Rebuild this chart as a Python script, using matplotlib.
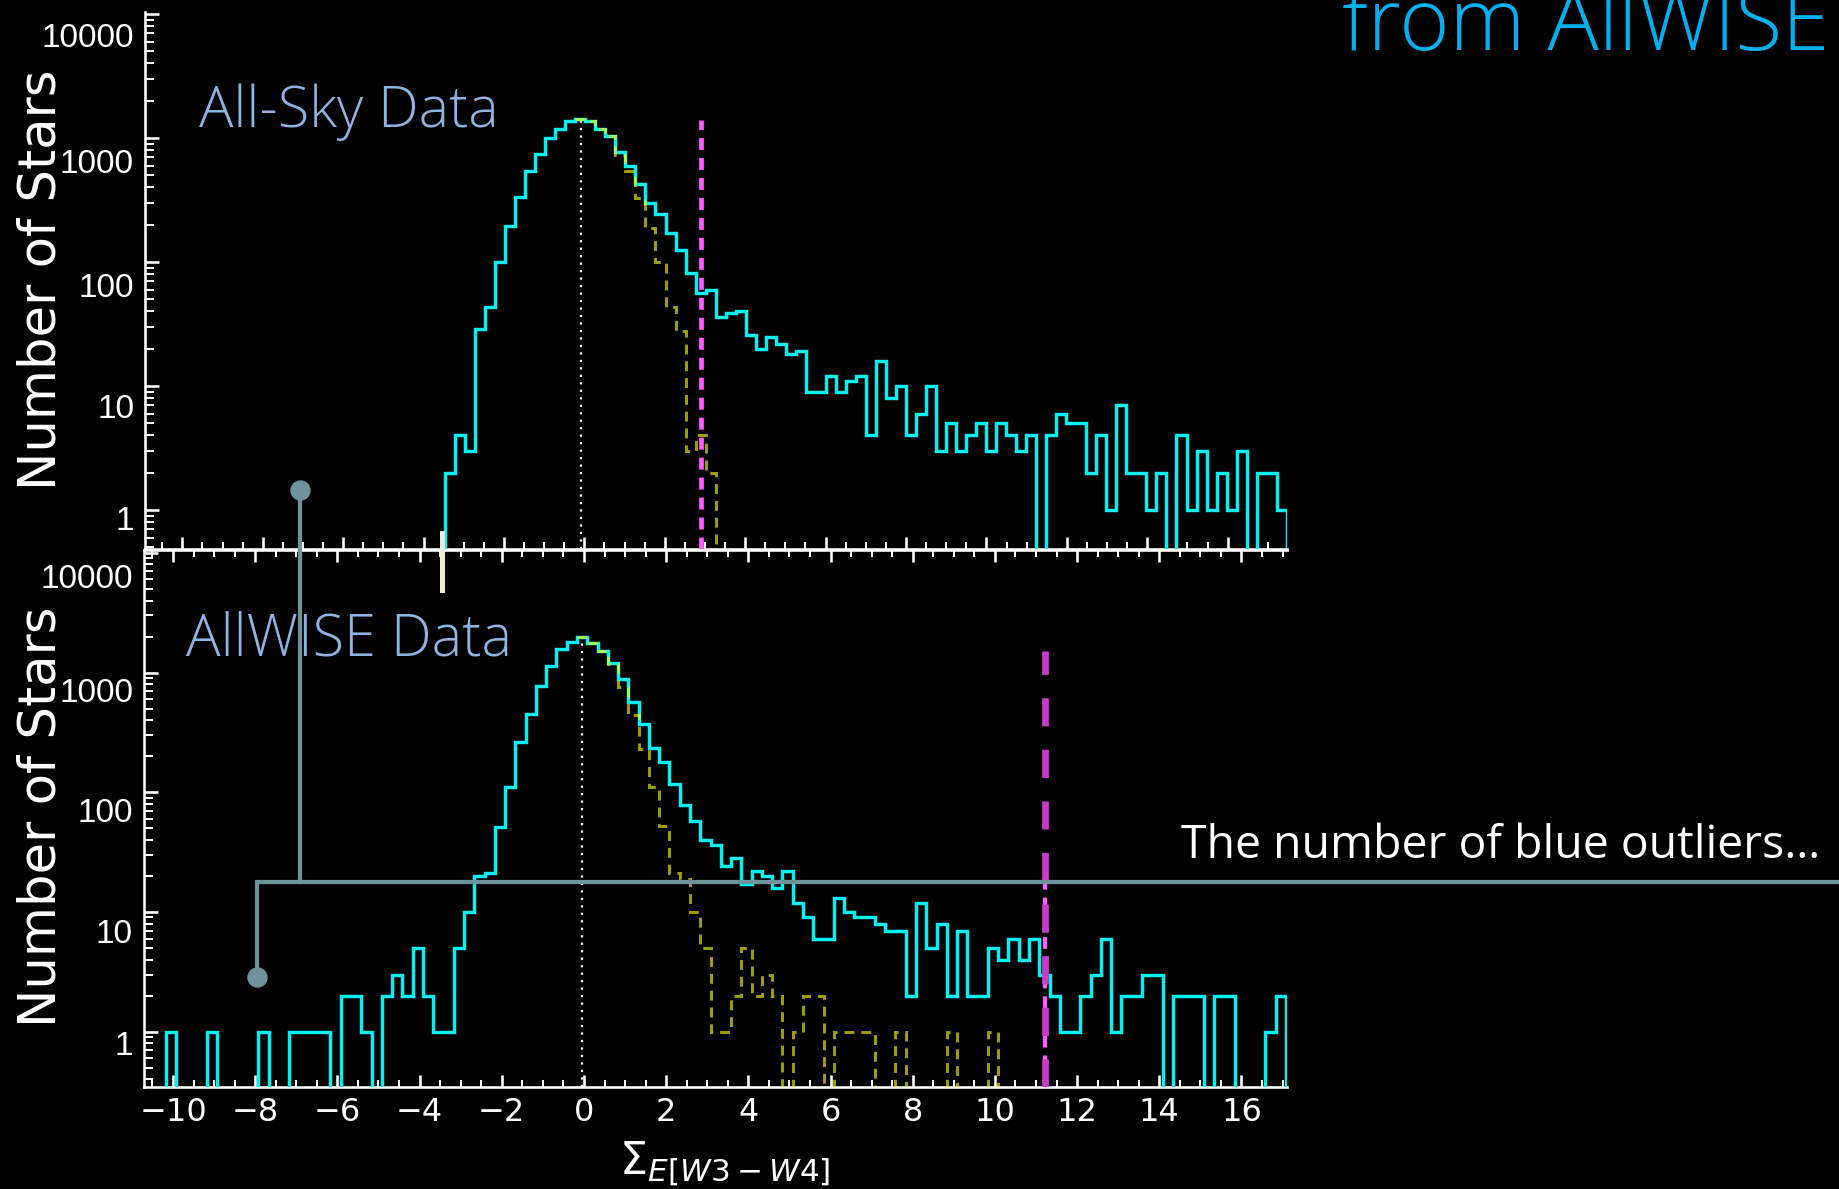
import numpy as np
import matplotlib
matplotlib.use("Agg")
import matplotlib.pyplot as plt
from matplotlib.lines import Line2D
from matplotlib.ticker import FixedLocator, LogLocator, NullFormatter, MultipleLocator
from matplotlib import font_manager
import matplotlib.transforms as mtransforms

W, H, DPI = 1839, 1189, 100

# ---------------- data ----------------
# All-Sky histogram (bin width ~0.25)
allsky_range = (-3.465, 17.47)
allsky_counts = [2, 4, 3, 29, 43, 100, 195, 336, 545, 740, 995, 1183, 1380, 1423,
                 1380, 1175, 1044, 767, 594, 426, 301, 246, 170, 125, 81, 56,
                 59, 36, 39, 40, 26, 20, 25, 22, 18, 19, 9, 9, 12, 9, 11, 12,
                 4, 16, 8, 10, 4, 6, 10, 3, 5, 3, 4, 5, 3, 5, 4, 3, 4, 0,
                 4, 6, 5, 5, 2, 4, 1, 7, 2, 2, 1, 2, 0, 4, 1, 3, 1, 2, 1, 3,
                 0, 2, 2, 1]
allsky_model_start = 13
allsky_model = [1423, 1380, 1175, 1030, 730, 545, 330, 187, 100, 43, 28, 3, 4, 2, 0]

# AllWISE histogram
allwise_range = (-10.17, 17.08)
allwise_counts = [1, 0, 0, 0, 1, 0, 0, 0, 0, 1, 0, 0, 1, 1, 1, 1, 0, 2, 2, 1,
                  0, 2, 3, 2, 5, 2, 1, 1, 5, 10, 20, 21, 51, 111, 265, 451, 777, 1135, 1567, 1812,
                  1972, 1778, 1514, 1210, 879, 571, 372, 233, 180, 117, 78, 58, 40, 36, 24, 28,
                  17, 22, 20, 16, 22, 12, 9, 6, 6, 13, 10, 9, 9, 8, 7, 7, 2, 12, 5, 8,
                  2, 7, 2, 2, 5, 4, 6, 4, 6, 3, 2, 1, 1, 2, 3, 6, 1, 2, 2, 3,
                  3, 0, 2, 2, 2, 0, 2, 2, 0, 0, 0, 1, 2]
allwise_model_start = 40
allwise_model = [1972, 1778, 1514, 1190, 762, 443, 230, 111, 52, 21, 19, 10, 5, 1, 1, 2,
                 5, 2, 3, 2, 0, 1, 2, 2, 0, 1, 1, 1, 1, 0, 0, 1, 0, 0, 0, 0,
                 1, 0, 0, 0, 1, 0]

median_allsky, median_allwise = -0.09, -0.04
cut_allsky, cut_allwise = 2.90, 11.23
cut_allwise_low = 18

ytick_vals = [1, 10, 100, 1000, 10000]
ytick_labels = ["1", "10", "100", "1000", "10000"]
title_text = "from AllWISE"
panel_titles = ["All-Sky Data", "AllWISE Data"]
ylabel_text = "Number of Stars"
xlabel_text = r"$\Sigma_{E[W3-W4]}$"
note_text = "The number of blue outliers…"

# ---------------- styling ----------------
CYAN = "#00F2F2"
YEL = (1.0, 1.0, 0.0, 0.62)
VIOLET = "#FF5CFF"
DMAG = "#C93CC9"
GREY = "#6F939C"
PANEL_BLUE = "#8EB4E3"
TITLE_BLUE = "#00B0F0"


def pick_light_family():
    for fam in ["Lato", "Open Sans", "Roboto", "Noto Sans"]:
        try:
            path = font_manager.findfont(font_manager.FontProperties(family=fam, weight="light"),
                                         fallback_to_default=False)
        except Exception:
            continue
        if "light" in path.lower():
            return fam
    return "Open Sans"


LIGHT_FAM = pick_light_family()


def px(v):  # pixels -> points
    return v * 72.0 / DPI


def frac(x0, y0, x1, y1):
    return [x0 / W, 1 - y1 / H, (x1 - x0) / W, (y1 - y0) / H]


fig = plt.figure(figsize=(W / DPI, H / DPI), dpi=DPI, facecolor="black")

ax_top = fig.add_axes(frac(145, 12.4, 1286.7, 548.5))
ax_bot = fig.add_axes(frac(144, 550, 1286.7, 1086.7))


def style_axis(ax, xlim, ylim, xlabels, toptick, label_shifts):
    ax.set_facecolor("black")
    ax.set_yscale("log")
    ax.set_xlim(*xlim)
    ax.set_ylim(*ylim)
    for s in ["left", "bottom", "top", "right"]:
        ax.spines[s].set_color("white")
        ax.spines[s].set_linewidth(px(2.6))
    ax.spines["right"].set_visible(False)
    ax.spines["top"].set_visible(toptick)
    ax.xaxis.set_major_locator(MultipleLocator(2))
    ax.xaxis.set_minor_locator(MultipleLocator(0.5))
    ax.yaxis.set_major_locator(FixedLocator(ytick_vals))
    ax.yaxis.set_major_formatter(plt.FixedFormatter(ytick_labels))
    ax.yaxis.set_minor_locator(LogLocator(base=10, subs=np.arange(2, 10)))
    ax.yaxis.set_minor_formatter(NullFormatter())
    ax.tick_params(axis="x", which="major", direction="in", length=px(12), width=px(2.6),
                   color="white", top=toptick, bottom=True, labelbottom=xlabels,
                   labelcolor="white", labelsize=23, pad=px(10))
    ax.tick_params(axis="x", which="minor", direction="in", length=px(7), width=px(2),
                   color="white", top=toptick, bottom=True)
    ax.tick_params(axis="y", which="major", direction="in", length=px(14), width=px(2.6),
                   color="white", labelcolor="white", labelsize=24, pad=px(11))
    ax.tick_params(axis="y", which="minor", direction="in", length=px(9), width=px(2),
                   color="white")
    for lab, dy in zip(ax.get_yticklabels(), label_shifts):
        lab.set_fontfamily("Liberation Sans")
        lab.set_transform(lab.get_transform() +
                          mtransforms.ScaledTranslation(0, -dy / DPI, fig.dpi_scale_trans))
    for lab in ax.get_xticklabels():
        lab.set_fontfamily("DejaVu Sans")


style_axis(ax_top, (-10.93, 17.47), (0.49, 1.03e4), False, False, [8, 19.6, 23, 23, 20.7])
style_axis(ax_bot, (-10.706, 17.10), (0.347, 1.057e4), True, True, [11.3, 19.5, 18, 17, 23])


def draw_panel(ax, rng, counts, mstart, model, med, ylo):
    edges = np.linspace(rng[0], rng[1], len(counts) + 1)
    ax.stairs(counts, edges, color=CYAN, lw=px(3.4), zorder=4)
    medges = edges[mstart:mstart + len(model) + 1]
    ax.stairs(model, medges, baseline=None, color=YEL, lw=px(3.0),
              linestyle=(0, (3.3, 2.3)), zorder=5)
    ax.vlines(med, ylo, max(counts), colors="white", lw=px(2.2),
              linestyles=[(0, (1, 2.4))], zorder=3)


draw_panel(ax_top, allsky_range, allsky_counts, allsky_model_start, allsky_model,
           median_allsky, 0.49)
draw_panel(ax_bot, allwise_range, allwise_counts, allwise_model_start, allwise_model,
           median_allwise, 0.347)

# cut lines
ax_top.vlines(cut_allsky, 0.49, 1400, colors=VIOLET, lw=px(4.7),
              linestyles=[(0, (2.55, 1.7))], zorder=6)
ax_bot.vlines(cut_allwise, 0.347, cut_allwise_low, colors=VIOLET, lw=px(4.2),
              linestyles=[(0, (2.8, 1.9))], zorder=6)
ax_bot.vlines(cut_allwise, 0.347, 1514, colors=DMAG, lw=px(6.7),
              linestyles=[(0, (4.2, 3.5))], zorder=7)

# ---------------- texts ----------------
for yc in (280, 817):
    fig.text(42 / W, 1 - yc / H, ylabel_text, rotation=90, fontsize=37, color="white",
             ha="center", va="center", family="DejaVu Sans")

fig.text(725 / W, 1 - 1163 / H, xlabel_text, fontsize=32, color="white",
         ha="center", va="center")

renderer = fig.canvas.get_renderer()


def fitted_text(x, y, s, width_px, size0, **kw):
    t = fig.text(x / W, 1 - y / H, s, fontsize=size0, **kw)
    w = t.get_window_extent(renderer).width
    if w > 0:
        t.set_fontsize(size0 * width_px / w)
    return t


fitted_text(199, 127, panel_titles[0], 299, 40, color=PANEL_BLUE, ha="left", va="baseline",
            family=LIGHT_FAM, fontweight="light")
fitted_text(186, 656, panel_titles[1], 325, 40, color=PANEL_BLUE, ha="left", va="baseline",
            family=LIGHT_FAM, fontweight="light")
fitted_text(1829, 50, title_text, 487, 60, color=TITLE_BLUE, ha="right", va="baseline",
            family=LIGHT_FAM, fontweight="light")
fitted_text(1181, 858, note_text, 638, 33, color="white", ha="left", va="baseline",
            family="Open Sans")

# ---------------- callout connector ----------------


def fl(xs, ys, **kw):
    fig.add_artist(Line2D([x / W for x in xs], [1 - y / H for y in ys],
                          transform=fig.transFigure, **kw))


fl([1839, 257], [881.5, 881.5], color=GREY, lw=px(4.2), zorder=20, solid_capstyle="butt")
fl([257, 257], [881.5, 977], color=GREY, lw=px(4.2), zorder=20)
fl([299.5, 299.5], [490, 881.5], color=GREY, lw=px(4.2), zorder=20)
fl([299.5], [490], marker="o", ms=px(19), color=GREY, zorder=21)
fl([257], [977], marker="o", ms=px(19), color=GREY, zorder=21)

# small light mark at the panel junction
fl([442, 442], [533, 590], color="#EEEADC", lw=px(5), zorder=19)

fig.savefig("out.png", dpi=DPI, facecolor="black")
